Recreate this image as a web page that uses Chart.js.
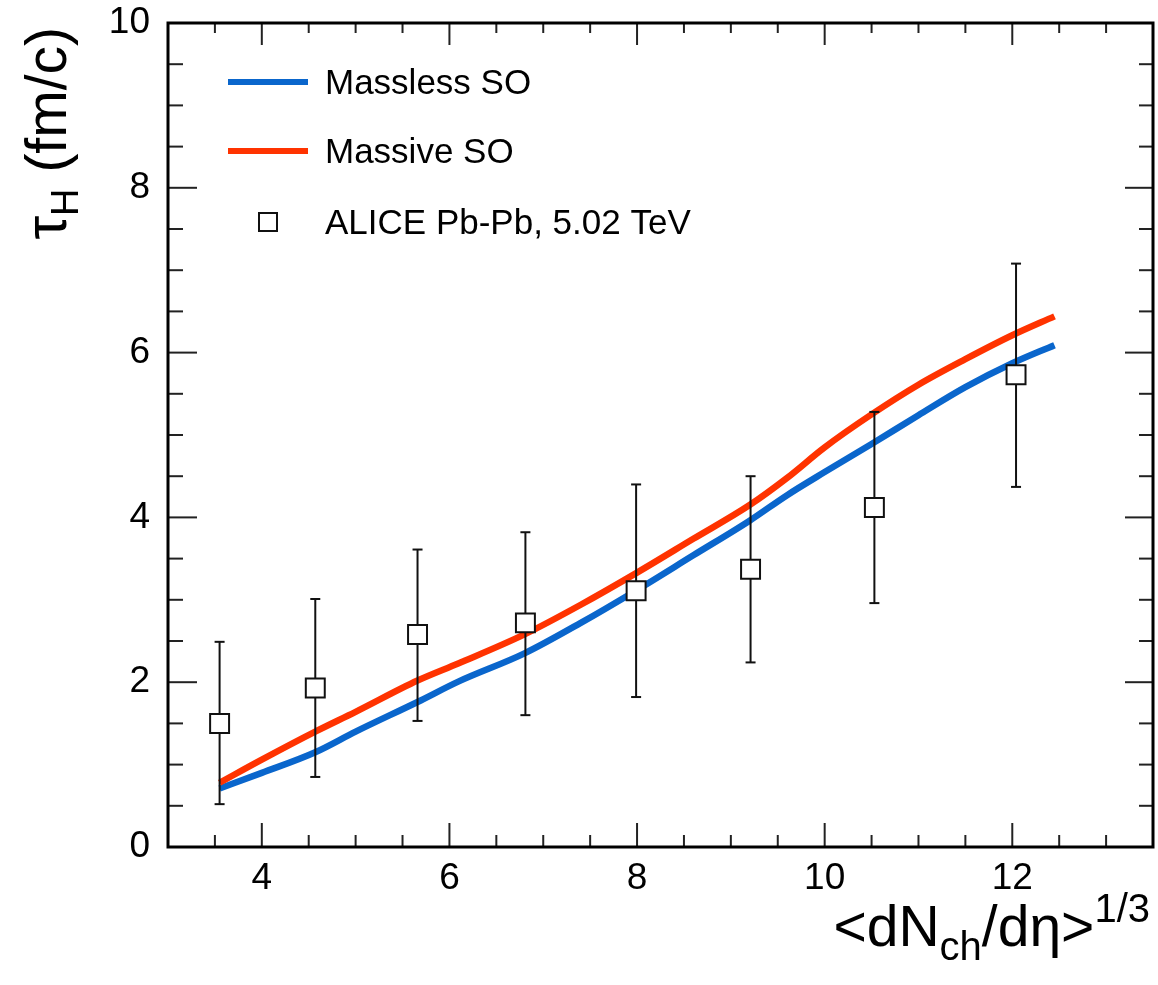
<!DOCTYPE html>
<html>
<head>
<meta charset="utf-8">
<script src="https://cdn.jsdelivr.net/npm/chart.js@4.4.0/dist/chart.umd.min.js"></script>
<style>
    html, body { margin: 0; padding: 0; background: #fff; overflow: hidden; }
    #wrap { width: 1158px; height: 985px; position: absolute; left: 0; top: 0; }
</style>
</head>
<body>
<div id="wrap"><canvas id="tauChart"></canvas></div>
<script>
// --- model curves (SO, massless / massive) ---
const modelX    = [3.55, 4.0, 4.57, 5.0, 5.66, 6.1, 6.8, 7.4, 8.0, 8.6, 9.2, 9.6, 10.0, 10.5, 11.0, 11.5, 12.0, 12.45];
const masslessY = [0.71, 0.90, 1.15, 1.40, 1.76, 2.01, 2.35, 2.72, 3.12, 3.54, 3.96, 4.27, 4.55, 4.89, 5.24, 5.58, 5.87, 6.09];
const massiveY  = [0.78, 1.06, 1.40, 1.64, 2.02, 2.23, 2.58, 2.94, 3.33, 3.74, 4.15, 4.48, 4.85, 5.25, 5.61, 5.92, 6.21, 6.44];

// --- ALICE Pb-Pb 5.02 TeV points with error bars ---
const aliceX    = [3.55, 4.57, 5.66, 6.81, 7.99, 9.21, 10.53, 12.04];
const aliceY    = [1.50, 1.93, 2.58, 2.72, 3.11, 3.37, 4.12, 5.73];
const aliceLow  = [0.52, 0.85, 1.53, 1.60, 1.82, 2.24, 2.96, 4.37];
const aliceHigh = [2.49, 3.01, 3.61, 3.82, 4.40, 4.50, 5.28, 7.08];

// --- axis tick labels ---
const xTickLabels = [4, 6, 8, 10, 12];
const yTickLabels = [0, 2, 4, 6, 8, 10];

const seriesLabels = ['Massless SO', 'Massive SO', 'ALICE Pb-Pb, 5.02 TeV'];
const FONT = '"Liberation Sans", Arial, Helvetica, sans-serif';

function drawRichText(ctx, parts, x, y, align) {
    let total = 0;
    parts.forEach(p => {
        ctx.font = p.size + 'px ' + FONT;
        p.w = ctx.measureText(p.text).width;
        total += p.w;
    });
    let cx = align === 'right' ? x - total : x;
    ctx.textAlign = 'left';
    ctx.textBaseline = 'alphabetic';
    parts.forEach(p => {
        ctx.font = p.size + 'px ' + FONT;
        ctx.fillText(p.text, cx, y + (p.dy || 0));
        cx += p.w;
    });
}

function strokeLine(ctx, x1, y1, x2, y2) {
    ctx.beginPath();
    ctx.moveTo(x1, y1);
    ctx.lineTo(x2, y2);
    ctx.stroke();
}

// error bars drawn just before the markers so the open squares sit on top
const errorBars = {
    id: 'errorBars',
    beforeDatasetDraw(chart, args) {
        if (args.index !== 2) return;
        const { ctx, scales: { x, y } } = chart;
        ctx.save();
        ctx.strokeStyle = '#111';
        ctx.lineWidth = 2;
        aliceX.forEach((xv, i) => {
            const px = x.getPixelForValue(xv);
            const top = y.getPixelForValue(aliceHigh[i]);
            const bot = y.getPixelForValue(aliceLow[i]);
            strokeLine(ctx, px, top, px, bot);
            strokeLine(ctx, px - 5, top, px + 5, top);
            strokeLine(ctx, px - 5, bot, px + 5, bot);
        });
        ctx.restore();
    }
};

// ROOT style frame with inward ticks on all four sides
const frameTicks = {
    id: 'frameTicks',
    afterDraw(chart) {
        const { ctx, chartArea: a, scales: { x, y } } = chart;
        ctx.save();
        ctx.strokeStyle = '#222';
        ctx.lineWidth = 2;
        x.ticks.forEach(t => {
            if (t.value <= x.min || t.value >= x.max) return;
            const px = x.getPixelForValue(t.value);
            const len = t.value % 2 === 0 ? 24 : 12;
            strokeLine(ctx, px, a.bottom, px, a.bottom - len);
            strokeLine(ctx, px, a.top, px, a.top + len - 2);
        });
        y.ticks.forEach(t => {
            if (t.value <= y.min || t.value >= y.max) return;
            const py = y.getPixelForValue(t.value);
            const len = t.value % 2 === 0 ? 29 : 15;
            strokeLine(ctx, a.left, py, a.left + len, py);
            strokeLine(ctx, a.right, py, a.right - len + 1, py);
        });
        ctx.strokeStyle = '#000';
        ctx.lineWidth = 3;
        ctx.strokeRect(a.left, a.top, a.right - a.left, a.bottom - a.top);
        ctx.restore();
    }
};

// legend in the top-left corner of the frame + axis titles with sub/superscripts
const legendAndTitles = {
    id: 'legendAndTitles',
    afterDraw(chart) {
        const { ctx, chartArea: a } = chart;
        const ds = chart.data.datasets;
        ctx.save();

        const lx1 = a.left + 60, lx2 = a.left + 140, tx = a.left + 157;
        const rows = [a.top + 59, a.top + 128, a.top + 199];
        ctx.lineWidth = 6;
        [0, 1].forEach(i => {
            ctx.strokeStyle = ds[i].borderColor;
            strokeLine(ctx, lx1, rows[i], lx2, rows[i]);
        });
        ctx.strokeStyle = '#111';
        ctx.lineWidth = 2;
        ctx.fillStyle = '#fff';
        ctx.fillRect((lx1 + lx2) / 2 - 9, rows[2] - 9, 18, 18);
        ctx.strokeRect((lx1 + lx2) / 2 - 9, rows[2] - 9, 18, 18);

        ctx.fillStyle = '#000';
        ctx.font = '35px ' + FONT;
        ctx.textAlign = 'left';
        ctx.textBaseline = 'middle';
        rows.forEach((ry, i) => ctx.fillText(ds[i].label, tx, ry + 2));

        // x axis title, right aligned at the end of the axis
        drawRichText(ctx, [
            { text: '<dN', size: 57 },
            { text: 'ch', size: 40, dy: 14 },
            { text: '/d\u03b7>', size: 57 },
            { text: '1/3', size: 40, dy: -24 }
        ], a.right - 3, 946, 'right');

        // y axis title, rotated, ending at the top of the axis
        ctx.translate(66, a.top + 4);
        ctx.rotate(-Math.PI / 2);
        drawRichText(ctx, [
            { text: '\u03c4', size: 60 },
            { text: 'H', size: 38, dy: 12 },
            { text: ' (fm/c)', size: 57 }
        ], 0, 0, 'right');
        ctx.restore();
    }
};

document.addEventListener('DOMContentLoaded', () => {
    const ctx = document.getElementById('tauChart').getContext('2d');

    new Chart(ctx, {
        type: 'line',
        data: {
            datasets: [
                {
                    label: seriesLabels[0],
                    data: modelX.map((xv, i) => ({ x: xv, y: masslessY[i] })),
                    borderColor: '#0a66cc',
                    borderWidth: 6.5,
                    pointRadius: 0,
                    cubicInterpolationMode: 'monotone',
                    fill: false,
                    order: 2
                },
                {
                    label: seriesLabels[1],
                    data: modelX.map((xv, i) => ({ x: xv, y: massiveY[i] })),
                    borderColor: '#ff3300',
                    borderWidth: 6.5,
                    pointRadius: 0,
                    cubicInterpolationMode: 'monotone',
                    fill: false,
                    order: 1
                },
                {
                    label: seriesLabels[2],
                    data: aliceX.map((xv, i) => ({ x: xv, y: aliceY[i] })),
                    showLine: false,
                    pointStyle: 'rect',
                    pointRadius: 13.4,
                    pointBorderWidth: 2,
                    pointBorderColor: '#111',
                    pointBackgroundColor: '#fff',
                    order: 0
                }
            ]
        },
        options: {
            responsive: true,
            maintainAspectRatio: false,
            animation: false,
            events: [],
            layout: { autoPadding: false, padding: { left: 0, top: 23, right: 5, bottom: 0 } },
            plugins: {
                legend: { display: false },
                tooltip: { enabled: false }
            },
            scales: {
                x: {
                    type: 'linear',
                    min: 3,
                    max: 13.5,
                    grid: { display: false, drawTicks: false },
                    border: { display: false },
                    ticks: {
                        stepSize: 0.5,
                        maxTicksLimit: 100,
                        autoSkip: false,
                        maxRotation: 0,
                        padding: 10,
                        color: '#000',
                        font: { family: FONT, size: 37 },
                        callback: v => xTickLabels.includes(v) ? String(v) : ''
                    },
                    afterFit: scale => {
                        scale.height = 138;
                        scale.paddingLeft = 0;
                        scale.paddingRight = 0;
                    }
                },
                y: {
                    type: 'linear',
                    min: 0,
                    max: 10,
                    grid: { display: false, drawTicks: false },
                    border: { display: false },
                    ticks: {
                        stepSize: 0.5,
                        maxTicksLimit: 100,
                        autoSkip: false,
                        padding: 18,
                        color: '#000',
                        font: { family: FONT, size: 37 },
                        callback: v => yTickLabels.includes(v) ? String(v) : ''
                    },
                    afterFit: scale => {
                        scale.width = 168;
                        scale.paddingTop = 0;
                        scale.paddingBottom = 0;
                    }
                }
            }
        },
        plugins: [errorBars, frameTicks, legendAndTitles]
    });
});
</script>
</body>
</html>
